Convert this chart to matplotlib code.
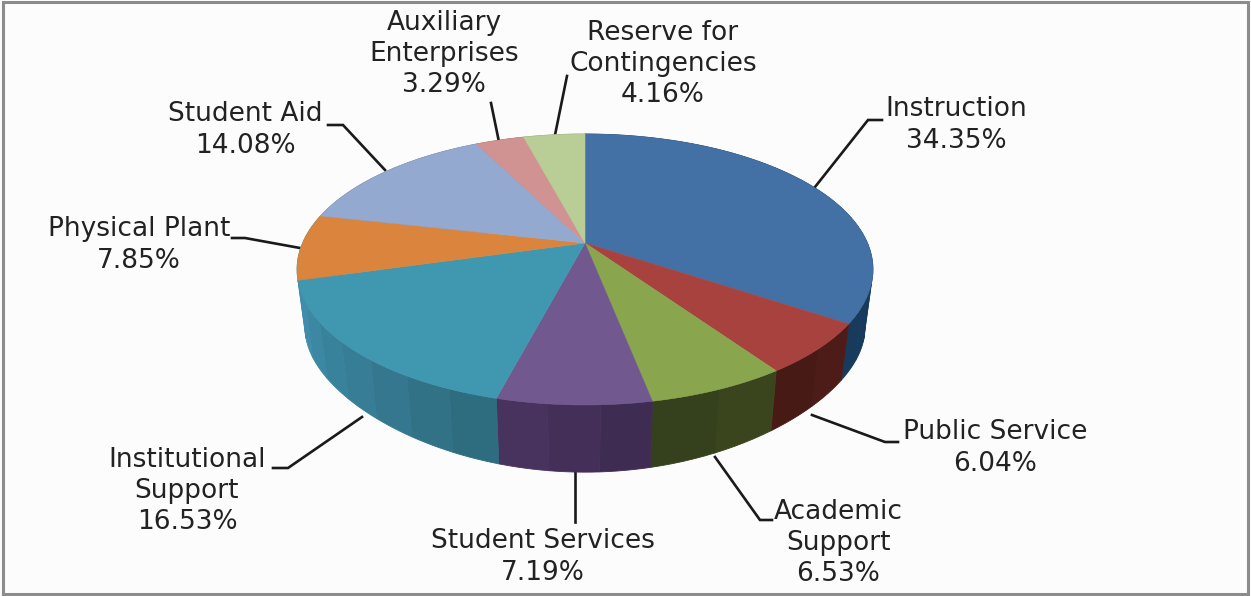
import numpy as np
import matplotlib
matplotlib.use('Agg')
import matplotlib.pyplot as plt
from matplotlib.patches import Rectangle

names = ['Instruction', 'Public Service', 'Academic\nSupport', 'Student Services',
         'Institutional\nSupport', 'Physical Plant', 'Student Aid',
         'Auxiliary\nEnterprises', 'Reserve for\nContingencies']
values = [34.35, 6.04, 6.53, 7.19, 16.53, 7.85, 14.08, 3.29, 4.16]

top_colors = ['#4371A6', '#A8423F', '#89A54E', '#71588F', '#4098B0',
              '#DB843D', '#93A9CF', '#D19392', '#B9CD96']
# side wall colour at the start and at the end of each slice
wall_start = ['#1F4468', '#4E1C18', '#3A451D', '#3F2C52', '#2E6C80',
              '#3F8DAA', '#6A7A96', '#966A69', '#85946C']
wall_end = ['#183A5C', '#481A16', '#35401C', '#48325E', '#3F8DAA',
            '#3F8DAA', '#6A7A96', '#966A69', '#85946C']

label_pos = [(956, 125), (995, 448), (838, 543), (543, 557), (187, 491),
             (139, 245), (245, 130), (444, 54), (663, 64)]
leaders = [[(815, 187), (868, 120), (882, 120)],
           [(812, 415), (885, 442), (898, 442)],
           [(715, 457), (760, 520), (772, 520)],
           [(575, 472), (575, 522)],
           [(362, 417), (288, 468), (273, 468)],
           [(300, 248), (245, 238), (232, 238)],
           [(385, 170), (343, 125), (328, 125)],
           [(499, 142), (491, 103)],
           [(555, 135), (567, 76)]]

# perspective of the pie, in pixels
cx, cy = 585, 243
k_top, a_top, b_top = 0.1955, 282.4, 130.3
cy_low, k_low, b_low, x_scale = 306, 0.35, 108, 0.972


def top_edge(deg):
    t = np.radians(deg)
    w = 1 + k_top * np.cos(t)
    return cx + a_top * np.sin(t) / w, cy - b_top * np.cos(t) / w


def low_edge(deg):
    t = np.radians(deg)
    w = 1 + k_top * np.cos(t)
    return cx + x_scale * a_top * np.sin(t) / w, cy_low - b_low * np.cos(t) / (1 + k_low * np.cos(t))


def blend(c1, c2, f):
    a = np.array(matplotlib.colors.to_rgb(c1))
    b = np.array(matplotlib.colors.to_rgb(c2))
    return a + (b - a) * f


fig = plt.figure(figsize=(12.51, 5.96), dpi=100, facecolor='#FCFCFC')
ax = fig.add_axes([0, 0, 1, 1])
ax.set_xlim(0, 1251)
ax.set_ylim(596, 0)
ax.axis('off')

ax.add_patch(Rectangle((3, 1.5), 1245, 592.5, fill=False, ec='#8C8C8C', lw=2.2))

edges = np.concatenate([[0], np.cumsum(values)]) / sum(values) * 360

# side wall first, in bands, then the top faces over it
for i in range(len(values)):
    n = max(int((edges[i + 1] - edges[i]) / 8), 1)
    steps = np.linspace(edges[i], edges[i + 1], n + 1)
    for j in range(n):
        fine = np.linspace(steps[j], steps[j + 1], 7)
        xt, yt = top_edge(fine)
        xl, yl = low_edge(fine)
        col = blend(wall_start[i], wall_end[i], j / max(n - 1, 1))
        ax.fill(np.r_[xt, xl[::-1]], np.r_[yt, yl[::-1]], color=col, lw=0.6, zorder=2)

for i in range(len(values)):
    arc = np.linspace(edges[i], edges[i + 1], 80)
    xt, yt = top_edge(arc)
    ax.fill(np.r_[cx, xt], np.r_[cy, yt], color=top_colors[i], lw=0.4, zorder=3)

for pts in leaders:
    xs, ys = zip(*pts)
    ax.plot(xs, ys, color='#1A1A1A', lw=1.9, zorder=1, solid_joinstyle='miter')

for name, val, pos in zip(names, values, label_pos):
    ax.text(pos[0], pos[1], f'{name}\n{val:.2f}%', ha='center', va='center',
            fontsize=19, color='#222222', family='DejaVu Sans', linespacing=1.27)

fig.savefig('out.png', dpi=100, facecolor=fig.get_facecolor())
